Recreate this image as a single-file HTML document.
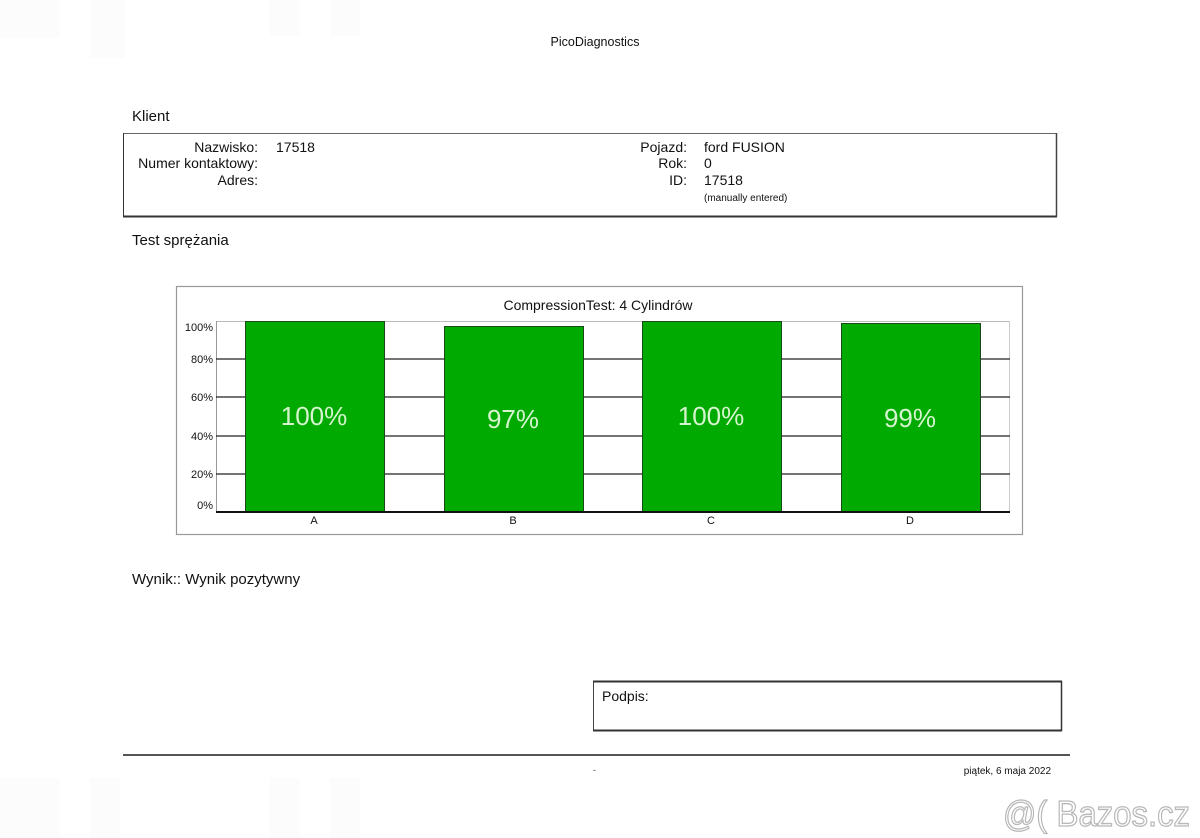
<!DOCTYPE html>
<html><head><meta charset="utf-8">
<style>
html,body{margin:0;padding:0;background:#fff;}
svg{display:block;font-family:"Liberation Sans",Arial,sans-serif;}
</style></head>
<body>
<svg width="1200" height="838" viewBox="0 0 1200 838" xmlns="http://www.w3.org/2000/svg">
<rect x="0" y="0" width="1200" height="838" fill="#fff"/>
<!-- faint background stripes -->
<g fill="#fcfcfc">
<rect x="0" y="0" width="60" height="38"/><rect x="90" y="0" width="35" height="58"/>
<rect x="270" y="0" width="30" height="36"/><rect x="330" y="0" width="30" height="36"/>
<rect x="0" y="778" width="60" height="60"/><rect x="90" y="778" width="30" height="60"/>
<rect x="270" y="778" width="30" height="60"/><rect x="330" y="778" width="30" height="60"/>
</g>

<text x="595" y="46" font-size="12.5" text-anchor="middle" fill="#111">PicoDiagnostics</text>

<text x="132" y="121" font-size="15" fill="#111">Klient</text>

<!-- client box -->
<rect x="123.5" y="133.5" width="933" height="83" fill="none" stroke="#666" stroke-width="1"/>
<line x1="123" y1="216.5" x2="1057" y2="216.5" stroke="#333" stroke-width="2"/>
<line x1="123.5" y1="133" x2="123.5" y2="217" stroke="#333" stroke-width="1"/>
<line x1="1056.5" y1="133" x2="1056.5" y2="217" stroke="#444" stroke-width="1.5"/>
<g font-size="14" fill="#111">
<text x="258" y="152" text-anchor="end">Nazwisko:</text>
<text x="258" y="168" text-anchor="end">Numer kontaktowy:</text>
<text x="258" y="185" text-anchor="end">Adres:</text>
<text x="276" y="152">17518</text>
<text x="687" y="152" text-anchor="end">Pojazd:</text>
<text x="687" y="168" text-anchor="end">Rok:</text>
<text x="687" y="185" text-anchor="end">ID:</text>
<text x="704" y="152">ford FUSION</text>
<text x="704" y="168">0</text>
<text x="704" y="185">17518</text>
</g>
<text x="704" y="201" font-size="10" fill="#111">(manually entered)</text>

<text x="132" y="245" font-size="15" fill="#111">Test sprężania</text>

<!-- chart box -->
<rect x="176.5" y="286.5" width="846" height="248" fill="#fff" stroke="#999" stroke-width="1.2"/>
<text x="598" y="310" font-size="14" text-anchor="middle" fill="#111">CompressionTest: 4 Cylindrów</text>

<!-- plot frame -->
<line x1="216" y1="321.5" x2="1010" y2="321.5" stroke="#bbb" stroke-width="1"/>
<line x1="216.5" y1="321" x2="216.5" y2="512" stroke="#999" stroke-width="1"/>
<line x1="1009.5" y1="321" x2="1009.5" y2="512" stroke="#ccc" stroke-width="1"/>
<g stroke="#222" stroke-width="1.3">
<line x1="216" y1="359" x2="1010" y2="359"/>
<line x1="216" y1="397" x2="1010" y2="397"/>
<line x1="216" y1="436" x2="1010" y2="436"/>
<line x1="216" y1="474" x2="1010" y2="474"/>
</g>
<g font-size="11" fill="#111" text-anchor="end">
<text x="213" y="331">100%</text>
<text x="213" y="363">80%</text>
<text x="213" y="401">60%</text>
<text x="213" y="440">40%</text>
<text x="213" y="478">20%</text>
<text x="213" y="509">0%</text>
</g>

<!-- bars -->
<g fill="#00aa00" stroke="#1a4a1a" stroke-width="1">
<rect x="245.5" y="321.5" width="139" height="190.5"/>
<rect x="444.5" y="326.5" width="139" height="185.5"/>
<rect x="642.5" y="321.5" width="139" height="190.5"/>
<rect x="841.5" y="323.5" width="139" height="188.5"/>
</g>
<line x1="216" y1="512" x2="1010" y2="512" stroke="#111" stroke-width="2"/>
<g font-size="26" fill="#d6f5cf" text-anchor="middle">
<text x="314" y="425">100%</text>
<text x="513" y="428">97%</text>
<text x="711" y="425">100%</text>
<text x="910" y="427">99%</text>
</g>
<g font-size="11" fill="#111" text-anchor="middle">
<text x="314" y="524">A</text>
<text x="513" y="524">B</text>
<text x="711" y="524">C</text>
<text x="910" y="524">D</text>
</g>

<text x="132" y="584" font-size="15" fill="#111">Wynik:: Wynik pozytywny</text>

<!-- Podpis box -->
<rect x="593.5" y="681.5" width="468" height="49" fill="none" stroke="#444" stroke-width="1"/>
<line x1="593" y1="681.5" x2="1062" y2="681.5" stroke="#333" stroke-width="2"/>
<line x1="593" y1="730.5" x2="1062" y2="730.5" stroke="#333" stroke-width="2"/>
<line x1="1061.5" y1="681" x2="1061.5" y2="731" stroke="#333" stroke-width="1.5"/>
<text x="602" y="701" font-size="14" fill="#111">Podpis:</text>

<!-- footer -->
<line x1="123" y1="755" x2="1070" y2="755" stroke="#555" stroke-width="2"/>
<text x="593" y="773" font-size="9" fill="#444">-</text>
<text x="1051" y="774" font-size="10" text-anchor="end" fill="#111">piątek, 6 maja 2022</text>

<!-- watermark -->
<text x="1003" y="826" font-size="36" fill="#fff" stroke="#b8b8b8" stroke-width="1.3" textLength="187" lengthAdjust="spacingAndGlyphs">@( Bazos.cz</text>
</svg>
</body></html>
